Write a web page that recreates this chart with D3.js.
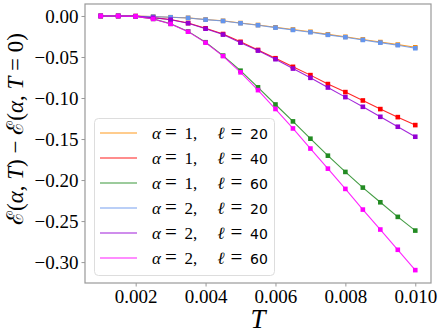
<!DOCTYPE html>
<html>
<head>
<meta charset="utf-8">
<script src="https://cdn.jsdelivr.net/npm/d3@7"></script>
<style>
  body { margin: 0; background: #fff; }
  svg { display: block; }
  .serif { font-family: "Liberation Serif", serif; }
  .sans { font-family: "DejaVu Sans", sans-serif; }
  .it { font-style: italic; }
  .tick text { font-family: "Liberation Serif", serif; font-size: 19px; fill: #000; }
</style>
</head>
<body>
<svg id="chart" width="440" height="335"></svg>
<script>
// temperatures (x)
const temps = [0.001, 0.0015, 0.002, 0.0025, 0.003, 0.0035, 0.004, 0.0045, 0.005, 0.0055,
               0.006, 0.0065, 0.007, 0.0075, 0.008, 0.0085, 0.009, 0.0095, 0.010];

// energy difference E(a,T) - E(a,0), one array per curve
const a1l20 = [0, 0, -0.0002, -0.0007, -0.0015, -0.0023, -0.0043, -0.0059, -0.0086, -0.0110,
               -0.0138, -0.0165, -0.0193, -0.0224, -0.0254, -0.0286, -0.0318, -0.0349, -0.0382];
const a1l40 = [0, 0, -0.0002, -0.0020, -0.0043, -0.0086, -0.0150, -0.0220, -0.0315, -0.0414,
               -0.0515, -0.0620, -0.0721, -0.0830, -0.0928, -0.1030, -0.1135, -0.1233, -0.1330];
const a1l60 = [0, 0, -0.0005, -0.0035, -0.0095, -0.0188, -0.0320, -0.0483, -0.0667, -0.0870,
               -0.1079, -0.1285, -0.1496, -0.1703, -0.1901, -0.2092, -0.2271, -0.2449, -0.2616];
const a2l20 = [0, 0, -0.0003, -0.0008, -0.0016, -0.0024, -0.0045, -0.0061, -0.0089, -0.0113,
               -0.0142, -0.0170, -0.0198, -0.0230, -0.0259, -0.0292, -0.0325, -0.0356, -0.0393];
const a2l40 = [0, 0, -0.0002, -0.0021, -0.0045, -0.0089, -0.0155, -0.0227, -0.0325, -0.0422,
               -0.0527, -0.0641, -0.0754, -0.0872, -0.0989, -0.1107, -0.1229, -0.1350, -0.1472];
const a2l60 = [0, 0, -0.0005, -0.0036, -0.0097, -0.0191, -0.0325, -0.0489, -0.0687, -0.0904,
               -0.1134, -0.1371, -0.1616, -0.1861, -0.2108, -0.2360, -0.2603, -0.2850, -0.3098];

const alphas = [1, 1, 1, 2, 2, 2];
const ells = [20, 40, 60, 20, 40, 60];
const seriesValues = [a1l20, a1l40, a1l60, a2l20, a2l40, a2l60];
const colors = ["#ff8c00", "#ff0000", "#228b22", "#6495ed", "#9400d3", "#ff00ff"];

const xTicks = [0.002, 0.004, 0.006, 0.008, 0.010];
const yTicks = [0, -0.05, -0.10, -0.15, -0.20, -0.25, -0.30];

const svg = d3.select("#chart");
const margin = {left: 85, right: 9, top: 4, bottom: 52};
const width = +svg.attr("width");
const height = +svg.attr("height");

const x = d3.scaleLinear().domain([0.00055, 0.01045]).range([margin.left, width - margin.right]);
const y = d3.scaleLinear().domain([-0.3255, 0.0146]).range([height - margin.bottom, margin.top]);

// curves
const line = d3.line().x((d, i) => x(temps[i])).y(d => y(d));

seriesValues.forEach((vals, k) => {
    let g = svg.append("g");
    g.append("path")
        .datum(vals)
        .attr("d", line)
        .attr("fill", "none")
        .attr("stroke", colors[k])
        .attr("stroke-width", 1.1)
        .attr("stroke-opacity", 0.85);
    g.selectAll("rect")
        .data(vals)
        .enter().append("rect")
        .attr("x", (d, i) => x(temps[i]) - 2.3)
        .attr("y", d => y(d) - 2.3)
        .attr("width", 4.6)
        .attr("height", 4.6)
        .attr("fill", colors[k]);
});

// frame
svg.append("rect")
    .attr("x", margin.left)
    .attr("y", margin.top)
    .attr("width", width - margin.left - margin.right)
    .attr("height", height - margin.top - margin.bottom)
    .attr("fill", "none")
    .attr("stroke", "#999")
    .attr("stroke-width", 1.2);

// axes
const xAxis = svg.append("g")
    .attr("transform", `translate(0, ${height - margin.bottom})`)
    .call(d3.axisBottom(x).tickValues(xTicks).tickFormat(d3.format(".3f")).tickSize(3.5).tickPadding(3));

const yAxis = svg.append("g")
    .attr("transform", `translate(${margin.left}, 0)`)
    .call(d3.axisLeft(y).tickValues(yTicks).tickFormat(d => d3.format(".2f")(d).replace("-", "\u2212")).tickSize(3.5).tickPadding(3));

[xAxis, yAxis].forEach(a => {
    a.select(".domain").remove();
    a.selectAll(".tick line").attr("stroke", "#999");
});

// axis labels
svg.append("text")
    .attr("class", "serif it")
    .attr("x", (margin.left + width - margin.right) / 2)
    .attr("y", 328)
    .attr("text-anchor", "middle")
    .style("font-size", "27px")
    .text("T");

let ylab = svg.append("text")
    .attr("class", "serif")
    .attr("transform", "translate(23, 129) rotate(-90)")
    .attr("text-anchor", "middle")
    .style("font-size", "23px");
const ylabParts = [["\u2130(", false], ["\u03b1", true], [", ", false], ["T", true], [") \u2212 \u2130(", false],
                   ["\u03b1", true], [", ", false], ["T", true], [" = 0)", false]];
ylabParts.forEach(p => {
    ylab.append("tspan").attr("class", p[1] ? "it" : null).text(p[0]);
});

// legend
const legend = svg.append("g");
legend.append("rect")
    .attr("x", 94.5)
    .attr("y", 118.5)
    .attr("width", 180)
    .attr("height", 157)
    .attr("rx", 4)
    .attr("fill", "#fff")
    .attr("fill-opacity", 0.8)
    .attr("stroke", "#ddd");

alphas.forEach((a, k) => {
    let cy = 133 + k * 25;
    legend.append("line")
        .attr("x1", 100).attr("x2", 137)
        .attr("y1", cy).attr("y2", cy)
        .attr("stroke", colors[k])
        .attr("stroke-opacity", 0.6)
        .attr("stroke-width", 1.5);
    let t = legend.append("text")
        .attr("class", "serif")
        .attr("y", cy + 5.5)
        .style("font-size", "17px");
    t.append("tspan").attr("x", 152).attr("class", "it").text("\u03b1");
    t.append("tspan").attr("x", 165).style("font-size", "21px").text("=");
    t.append("tspan").attr("x", 184.5).text(`${a},`);
    t.append("tspan").attr("x", 217.5).attr("class", "it").text("\u2113");
    t.append("tspan").attr("x", 230.5).style("font-size", "21px").text("=");
    t.append("tspan").attr("x", 250).attr("class", "sans").style("font-size", "14px").text(ells[k]);
});
</script>
</body>
</html>
